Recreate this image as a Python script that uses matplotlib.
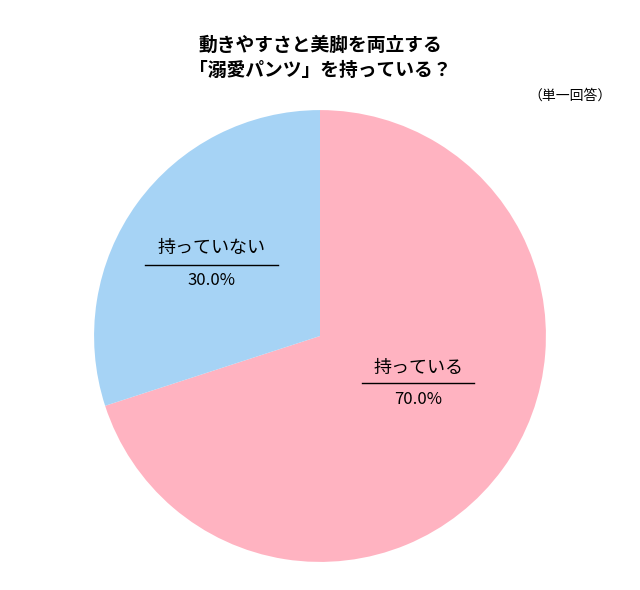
import matplotlib
matplotlib.use("Agg")
import matplotlib.pyplot as plt
from matplotlib.lines import Line2D

plt.rcParams['font.family'] = ['Noto Sans CJK JP', 'DejaVu Sans']

labels = ["持っている", "持っていない"]
values = [70.0, 30.0]
colors = ["#FFB3C1", "#A6D3F5"]
title = "動きやすさと美脚を両立する\n「溺愛パンツ」を持っている？"
note = "（単一回答）"

W, H = 640, 590
fig = plt.figure(figsize=(W/100, H/100), dpi=100)
ax = fig.add_axes([0.147, 0.0475, 0.706, 0.766])
ax.pie(values, colors=colors, startangle=90, counterclock=False,
       wedgeprops=dict(linewidth=0))
ax.set_aspect('equal')
ax.set_xlim(-1, 1)
ax.set_ylim(-1, 1)

def fx(x): return x / W
def fy(y): return 1 - y / H

fig.text(0.5, fy(58), title, ha='center', va='center', fontsize=13.5,
         fontweight='bold', linespacing=1.45)
fig.text(fx(612), fy(96), note, ha='right', va='center', fontsize=10)

lpos = [(418, 368, 383, 362, 474, 399), (211, 248, 265, 145, 278, 281)]
for lab, v, (cx, ny, ly, x0, x1, vy) in zip(labels, values, lpos):
    fig.text(fx(cx), fy(ny), lab, ha='center', va='center', fontsize=13)
    fig.add_artist(Line2D([fx(x0), fx(x1)], [fy(ly), fy(ly)], color='black', lw=1))
    fig.text(fx(cx), fy(vy), f"{v:.1f}%", ha='center', va='center', fontsize=12)

fig.savefig("out.png", dpi=100, facecolor='white')
